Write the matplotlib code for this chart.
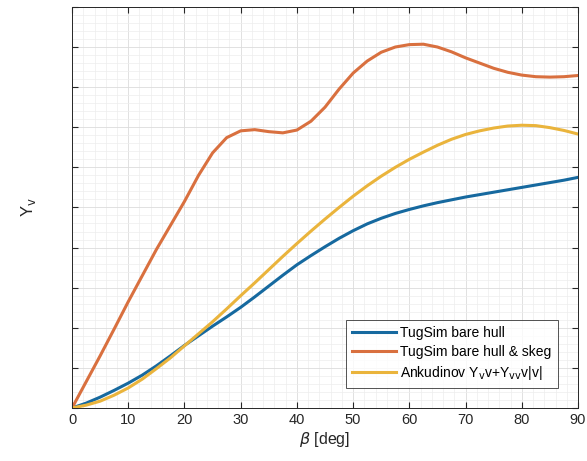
import numpy as np
import matplotlib
matplotlib.use('Agg')
from matplotlib import pyplot as plt
from matplotlib.ticker import AutoMinorLocator, NullFormatter

plt.rcParams['font.family'] = ['Liberation Sans', 'DejaVu Sans']

# values (y axis has no numbers, units are tick steps)
beta = [0, 2.5, 5, 7.5, 10, 12.5, 15, 17.5, 20, 22.5, 25, 27.5, 30, 32.5, 35,
        37.5, 40, 42.5, 45, 47.5, 50, 52.5, 55, 57.5, 60, 62.5, 65, 67.5, 70,
        72.5, 75, 77.5, 80, 82.5, 85, 87.5, 90]
yv_skeg = [0, 0.65, 1.3, 1.97, 2.65, 3.3, 3.95, 4.55, 5.15, 5.8, 6.36, 6.74, 6.91,
           6.94, 6.89, 6.86, 6.93, 7.15, 7.5, 7.95, 8.35, 8.65, 8.87, 9.0, 9.06,
           9.07, 9.0, 8.88, 8.73, 8.6, 8.47, 8.37, 8.3, 8.26, 8.25, 8.26, 8.29]
yv_bare = [0, 0.12, 0.27, 0.44, 0.62, 0.82, 1.05, 1.3, 1.56, 1.8, 2.04, 2.27, 2.51,
           2.77, 3.04, 3.31, 3.57, 3.8, 4.02, 4.23, 4.42, 4.59, 4.73, 4.85, 4.95,
           5.04, 5.12, 5.19, 5.26, 5.32, 5.38, 5.44, 5.5, 5.56, 5.62, 5.68, 5.75]
yv_ank = [0, 0.07, 0.17, 0.32, 0.5, 0.72, 0.98, 1.25, 1.55, 1.85, 2.15, 2.47, 2.8,
          3.12, 3.45, 3.78, 4.1, 4.41, 4.71, 5.0, 5.28, 5.54, 5.78, 6.0, 6.2,
          6.38, 6.55, 6.7, 6.82, 6.91, 6.98, 7.03, 7.05, 7.04, 6.99, 6.92, 6.83]

labels = ['TugSim bare hull', 'TugSim bare hull & skeg',
          r'Ankudinov Y$_\mathrm{v}$v+Y$_\mathrm{vv}$v|v|']
colors = ['#16699f', '#d9703f', '#eab43c']

fig = plt.figure(figsize=(5.87, 4.61), dpi=100)
ax = fig.add_axes([0.1227, 0.115, 0.862, 0.87])

ax.plot(beta, yv_bare, color=colors[0], lw=2.2, label=labels[0], solid_joinstyle='round')
ax.plot(beta, yv_skeg, color=colors[1], lw=2.2, label=labels[1], solid_joinstyle='round')
ax.plot(beta, yv_ank, color=colors[2], lw=2.2, label=labels[2], solid_joinstyle='round')

ax.set_xlim(0, 90)
ax.set_ylim(0, 10)
ax.set_xticks(np.arange(0, 91, 10))
ax.set_yticks(np.arange(0, 11, 1))
ax.yaxis.set_major_formatter(NullFormatter())
ax.xaxis.set_minor_locator(AutoMinorLocator(5))
ax.yaxis.set_minor_locator(AutoMinorLocator(5))
ax.tick_params(which='both', direction='in', top=True, right=True, colors='#262626',
               labelsize=10.5)
ax.tick_params(which='minor', length=0)
ax.tick_params(which='major', length=4)
ax.grid(which='major', color='#dcdcdc', lw=0.6)
ax.grid(which='minor', color='#ededed', lw=0.5)
ax.set_axisbelow(True)
for s in ax.spines.values():
    s.set_color('#262626')
    s.set_linewidth(0.7)

ax.set_xlabel(r'$\beta$ [deg]', fontsize=11.5, color='#262626', labelpad=2)
ax.set_ylabel(r'Y$_\mathrm{v}$', fontsize=12, color='#262626', labelpad=21)

leg = ax.legend(loc='lower right', fontsize=10, frameon=True, fancybox=False,
                edgecolor='#262626', borderaxespad=1.45, handlelength=3.2,
                labelspacing=0.35, borderpad=0.45, handletextpad=0.3)
leg.get_frame().set_linewidth(0.7)

fig.savefig('out.png', dpi=100)
